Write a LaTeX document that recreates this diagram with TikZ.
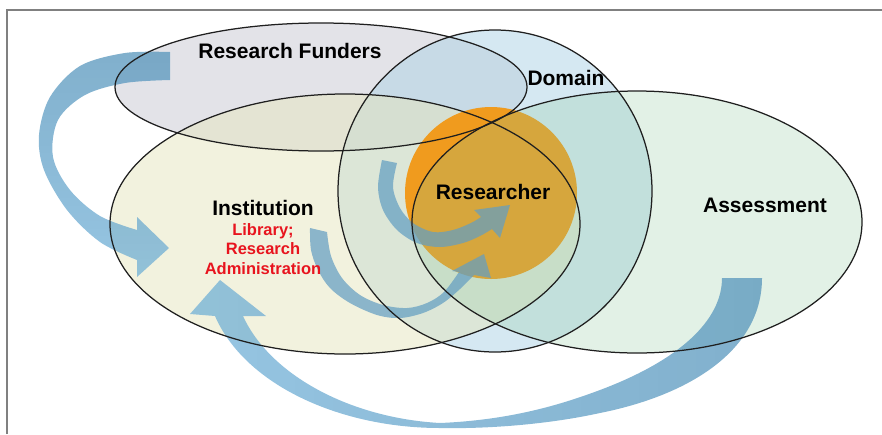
\documentclass[tikz,border=0pt]{standalone}
\usepackage{fontspec}
\setmainfont{Liberation Sans}
\definecolor{fundc}{RGB}{200,200,210}
\definecolor{domc}{RGB}{171,209,229}
\definecolor{instc}{RGB}{229,229,189}
\definecolor{assc}{RGB}{139,199,155}
\definecolor{orangec}{RGB}{240,155,30}
\definecolor{arrdark}{RGB}{80,145,185}
\definecolor{arrlight}{RGB}{110,175,215}
\definecolor{redtxt}{RGB}{232,20,30}
\begin{document}
\begin{tikzpicture}[x=1pt,y=-1pt,
  outl/.style={draw=black!88, line width=1.25pt},
  lbl/.style={font=\bfseries\fontsize{21}{24}\selectfont, text=black, inner sep=0pt},
  sublbl/.style={font=\bfseries\fontsize{16.5}{19.5}\selectfont, text=redtxt, align=center, inner sep=0pt},
  arrowband/.style={fill opacity=0.72},
  smoothedge/.style={smooth, tension=0.55}
]
\useasboundingbox (0,0) rectangle (882,434);
\draw[gray, line width=1.5pt] (7,434) -- (7,10) -- (882,10);

\coordinate (fund) at (321,87);
\coordinate (dom) at (495,191);
\coordinate (inst) at (345,224);
\coordinate (asse) at (637,222);
\coordinate (rsch) at (491,193);

% fills
\fill[fundc, fill opacity=0.5] (fund) ellipse [x radius=206pt, y radius=64pt];
\fill[domc, fill opacity=0.5] (dom) ellipse [x radius=157pt, y radius=161pt];
\fill[instc, fill opacity=0.5] (inst) ellipse [x radius=235pt, y radius=130pt];
\fill[orangec] (rsch) circle [radius=86pt];
\fill[assc, fill opacity=0.25] (asse) ellipse [x radius=225pt, y radius=131pt];

% big left arrow (Research Funders -> Institution)
\shade[arrowband, top color=arrdark, bottom color=arrlight]
  plot[smoothedge] coordinates {(170,52) (125,53) (80,66) (50,97) (39,135) (44,170) (67,210) (100,242) (137,260)}
  -- (137,277) -- (169,248) -- (137,217)
  -- plot[smoothedge] coordinates {(137,230) (100,216) (70,190) (53,157) (58,120) (85,95) (125,83) (170,80)}
  -- cycle;

% big bottom arrow (Assessment -> Institution)
\shade[arrowband, left color=arrlight, right color=arrdark]
  (762,278) .. controls (762,350) and (690,395) .. (600,413)
  .. controls (550,424) and (490,429) .. (440,428)
  .. controls (340,428) and (245,385) .. (215,316)
  -- (190,314) -- (220,280) -- (266,316) -- (243,316)
  .. controls (270,375) and (350,418) .. (440,423)
  .. controls (510,420) and (560,405) .. (600,390)
  .. controls (680,360) and (722,320) .. (722,278)
  -- cycle;

% inner upper arrow (Domain -> Researcher)
\fill[arrowband, arrlight!90!black]
  plot[smoothedge] coordinates {(382,160) (378,187) (383,210) (397,230) (417,243) (440,247) (463,243) (480,236) (492,229)}
  -- (500,238) -- (510,205) -- (474,210)
  -- plot[smoothedge] coordinates {(481,217) (471,223) (453,230) (433,232) (413,223) (400,208) (393,187) (397,163)}
  -- cycle;

% inner lower arrow (Institution -> Researcher)
\fill[arrowband, arrlight!90!black]
  plot[smoothedge] coordinates {(310,228) (311,250) (318,270) (330,288) (350,303) (377,315) (400,318) (423,313) (443,303) (460,289) (474,275)}
  -- (491,278) -- (484,254) -- (452,271)
  -- plot[smoothedge] coordinates {(459,272) (444,292) (427,303) (407,308) (383,305) (360,295) (342,278) (331,256) (327,232)}
  -- cycle;

% outlines
\draw[outl] (fund) ellipse [x radius=206pt, y radius=64pt];
\draw[outl] (dom) ellipse [x radius=157pt, y radius=161pt];
\draw[outl] (inst) ellipse [x radius=235pt, y radius=130pt];
\draw[outl] (asse) ellipse [x radius=225pt, y radius=131pt];

% labels
\node[lbl] (tfund) at (290,51) {Research Funders};
\node[lbl] (tdom) at (566,78) {Domain};
\node[lbl] (tinst) at (263,208) {Institution};
\node[sublbl] (tlib) at (263,249) {Library;\\Research\\Administration};
\node[lbl] (trsch) at (493,192) {Researcher};
\node[lbl] (tass) at (765,205) {Assessment};
\end{tikzpicture}
\end{document}
